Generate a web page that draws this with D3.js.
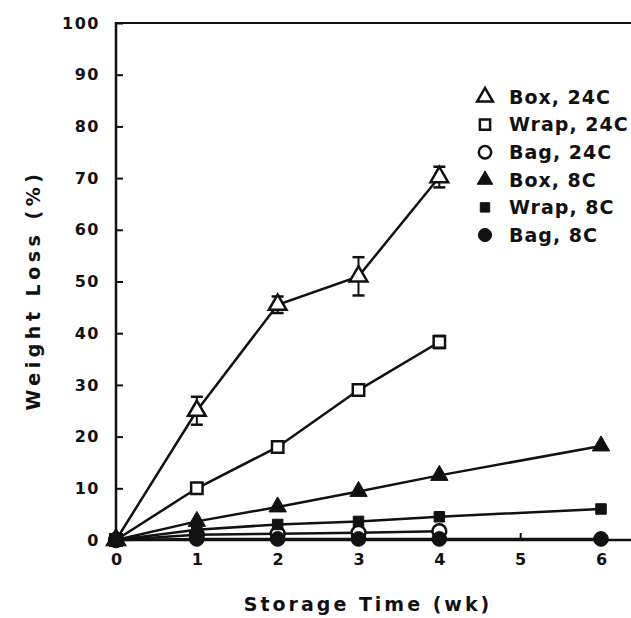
<!DOCTYPE html>
<html>
<head>
<meta charset="utf-8">
<script src="https://cdn.jsdelivr.net/npm/d3@7"></script>
<style>
  body { margin: 0; background: #fff; }
  text { font-family: "DejaVu Sans", sans-serif; font-weight: bold; fill: #111; }
</style>
</head>
<body>
<div class="chart"></div>
<script>
// DATA ------------------------------------
const weeks = [0, 1, 2, 3, 4, 6];
const xTicks = [0, 1, 2, 3, 4, 5, 6];
const yTicks = [0, 10, 20, 30, 40, 50, 60, 70, 80, 90, 100];

const box24 = [0, 25, 45.5, 51, 70.2];
const box24Err = [0, 2.7, 1.6, 3.7, 2];
const wrap24 = [0, 10, 18, 29, 38.3];
const wrap24Err = [0, 0, 0, 0, 1.2];
const bag24 = [0, 1, 1.2, 1.4, 1.7];
const box8 = [0, 3.6, 6.4, 9.4, 12.5, 18.2];
const wrap8 = [0, 2, 3, 3.6, 4.5, 6];
const bag8 = [0, 0.2, 0.2, 0.2, 0.2, 0.2];

const seriesNames = ['Box, 24C', 'Wrap, 24C', 'Bag, 24C', 'Box, 8C', 'Wrap, 8C', 'Bag, 8C'];

// CHART INIT ------------------------------
const W = 631, H = 618;
const svg = d3.select('.chart').append('svg').attr('width', W).attr('height', H);

const x = d3.scaleLinear().domain([0, 6]).range([116, 601]);
const y = d3.scaleLinear().domain([0, 100]).range([540, 23]);

// axes
const yAxis = d3.axisLeft(y).tickValues(yTicks).tickSizeInner(-7).tickSizeOuter(0).tickPadding(16);
const yG = svg.append('g').attr('transform', 'translate(' + x(0) + ',0)').call(yAxis);
yG.select('.domain').remove();
yG.selectAll('line').attr('stroke', '#111').attr('stroke-width', 2);
yG.selectAll('text').attr('font-size', 16).attr('letter-spacing', 1.5).attr('font-family', 'DejaVu Sans').attr('font-weight', 'bold').attr('fill', '#111');

const xAxis = d3.axisBottom(x).tickValues(xTicks).tickFormat(d3.format('d')).tickSizeInner(-7).tickSizeOuter(0).tickPadding(14);
const xG = svg.append('g').attr('transform', 'translate(0,' + y(0) + ')').call(xAxis);
xG.select('.domain').remove();
xG.selectAll('line').attr('stroke', '#111').attr('stroke-width', 2);
xG.selectAll('text').attr('font-size', 16).attr('font-family', 'DejaVu Sans').attr('font-weight', 'bold').attr('fill', '#111');

// frame lines
svg.append('line').attr('x1', x(0)).attr('x2', x(0)).attr('y1', y(100) - 1).attr('y2', y(0))
  .attr('stroke', '#111').attr('stroke-width', 2.5);
svg.append('line').attr('x1', x(0)).attr('x2', W).attr('y1', y(0)).attr('y2', y(0))
  .attr('stroke', '#111').attr('stroke-width', 2.5);
svg.append('line').attr('x1', x(0) - 1).attr('x2', W).attr('y1', y(100)).attr('y2', y(100))
  .attr('stroke', '#111').attr('stroke-width', 2);

// axis titles
svg.append('text').attr('x', 368).attr('y', 611).attr('text-anchor', 'middle')
  .attr('font-size', 19).attr('letter-spacing', 3).text('Storage Time (wk)');
svg.append('text').attr('transform', 'translate(40,' + 290 + ') rotate(-90)').attr('text-anchor', 'middle')
  .attr('font-size', 19).attr('letter-spacing', 4.5).text('Weight Loss (%)');

// series
const series = [
  { name: seriesNames[0], vals: box24, err: box24Err, shape: d3.symbolTriangle, size: 135, filled: false },
  { name: seriesNames[1], vals: wrap24, err: wrap24Err, shape: d3.symbolSquare, size: 130, filled: false },
  { name: seriesNames[2], vals: bag24, err: null, shape: d3.symbolCircle, size: 150, filled: false },
  { name: seriesNames[3], vals: box8, err: null, shape: d3.symbolTriangle, size: 130, filled: true },
  { name: seriesNames[4], vals: wrap8, err: null, shape: d3.symbolSquare, size: 110, filled: true },
  { name: seriesNames[5], vals: bag8, err: null, shape: d3.symbolCircle, size: 170, filled: true }
];

const line = d3.line().x((d) => x(d.wk)).y((d) => y(d.v));

series.forEach((s) => {
  s.points = s.vals.map((v, i) => ({ wk: weeks[i], v: v, e: s.err ? s.err[i] : 0 }));
  svg.append('path').datum(s.points).attr('d', line)
    .attr('fill', 'none').attr('stroke', '#111').attr('stroke-width', 2.5);
});

// error bars
series.forEach((s) => {
  const eb = svg.append('g').selectAll('g').data(s.points.filter((d) => d.e > 0)).join('g');
  eb.append('line').attr('x1', (d) => x(d.wk)).attr('x2', (d) => x(d.wk))
    .attr('y1', (d) => y(d.v + d.e)).attr('y2', (d) => y(d.v - d.e))
    .attr('stroke', '#111').attr('stroke-width', 2);
  [1, -1].forEach((k) => {
    eb.append('line').attr('x1', (d) => x(d.wk) - 6).attr('x2', (d) => x(d.wk) + 6)
      .attr('y1', (d) => y(d.v + k * d.e)).attr('y2', (d) => y(d.v + k * d.e))
      .attr('stroke', '#111').attr('stroke-width', 2.5);
  });
});

// markers
series.forEach((s) => {
  svg.append('g').selectAll('path').data(s.points).join('path')
    .attr('transform', (d) => 'translate(' + x(d.wk) + ',' + y(d.v) + ')')
    .attr('d', d3.symbol(s.shape, s.size))
    .attr('fill', s.filled ? '#111' : '#fff')
    .attr('stroke', '#111').attr('stroke-width', s.filled ? 1 : 2.5);
});

// legend
const legend = svg.append('g').attr('transform', 'translate(485,97)');
const rows = legend.selectAll('g').data(series).join('g')
  .attr('transform', (d, i) => 'translate(0,' + i * 27.6 + ')');
rows.append('path').attr('d', (d) => d3.symbol(d.shape, d.size * 0.8)())
  .attr('fill', (d) => (d.filled ? '#111' : '#fff'))
  .attr('stroke', '#111').attr('stroke-width', (d) => (d.filled ? 1 : 2.5));
rows.append('text').attr('x', 24).attr('dy', '0.36em')
  .attr('font-size', 19).attr('letter-spacing', 1).text((d) => d.name);
</script>
</body>
</html>
